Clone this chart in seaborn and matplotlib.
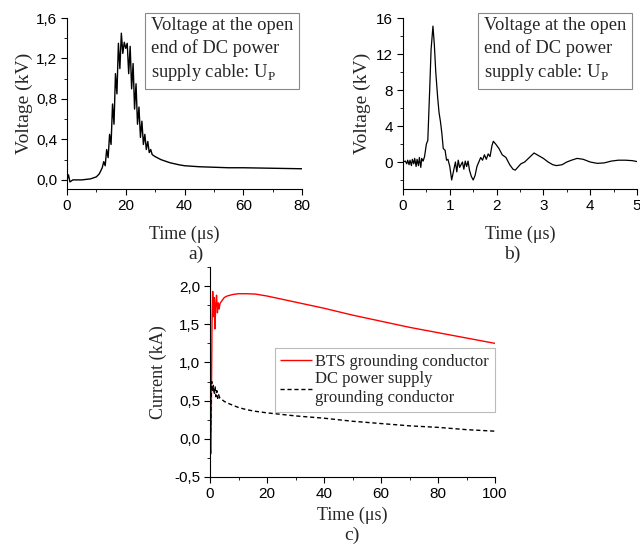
import numpy as np
import pandas as pd
import matplotlib
matplotlib.use("Agg")
import matplotlib.pyplot as plt
import seaborn as sns
from matplotlib.ticker import MultipleLocator, FixedLocator

# a) tensione all'estremo aperto, scala 0-80 us
t_a = [0, 0.5, 1, 2, 5, 8, 10, 11, 12, 12.5, 13, 13.5, 14, 14.5, 15, 15.5, 16, 16.5, 17,
       17.5, 18, 18.5, 19, 19.5, 20, 20.5, 21, 21.5, 22, 22.5, 23, 23.5, 24, 24.5, 25,
       25.5, 26, 26.5, 27, 27.5, 28, 28.5, 29, 30, 32, 35, 38, 40, 45, 50, 55, 60, 70, 80]
v_a = [0, 0.05, -0.02, 0.0, 0.0, 0.01, 0.03, 0.06, 0.12, 0.18, 0.14, 0.3, 0.22, 0.45, 0.35,
       0.75, 0.55, 1.05, 0.85, 1.35, 1.1, 1.45, 1.25, 1.36, 1.3, 1.35, 1.05, 1.32, 0.9, 1.15,
       0.7, 0.95, 0.55, 0.72, 0.42, 0.58, 0.35, 0.45, 0.3, 0.38, 0.27, 0.3, 0.25, 0.23, 0.2,
       0.17, 0.15, 0.14, 0.13, 0.125, 0.12, 0.12, 0.115, 0.11]

# b) tensione all'estremo aperto, scala 0-5 us
t_b = [0, 0.05, 0.08, 0.1, 0.13, 0.15, 0.18, 0.2, 0.23, 0.25, 0.28, 0.3, 0.33, 0.35, 0.38,
       0.4, 0.43, 0.46, 0.5, 0.53, 0.57, 0.6, 0.64, 0.67, 0.7, 0.74, 0.77, 0.8, 0.83, 0.86,
       0.9, 0.93, 0.96, 1.0, 1.04, 1.08, 1.12, 1.15, 1.18, 1.21, 1.24, 1.27, 1.3, 1.33, 1.36,
       1.39, 1.42, 1.46, 1.5, 1.54, 1.58, 1.62, 1.66, 1.7, 1.74, 1.78, 1.82, 1.86, 1.9, 1.93,
       1.98, 2.05, 2.12, 2.2, 2.28, 2.35, 2.4, 2.45, 2.52, 2.6, 2.7, 2.8, 2.9, 3.0, 3.1, 3.2,
       3.28, 3.4, 3.5, 3.6, 3.72, 3.85, 4.0, 4.15, 4.3, 4.45, 4.6, 4.75, 4.9, 5.0]
v_b = [0, 0.1, -0.2, 0.2, -0.3, 0.2, -0.4, 0.3, -0.2, 0.4, -0.5, 0.3, -0.4, 0.5, -0.6, 0.4,
       0.1, 0.6, 2.0, 2.4, 8, 12.5, 15.1, 13, 10, 7.2, 5.5, 4.5, 3.2, 1.5, 1.3, 0.2, 0.3, -0.5,
       -2.0, -1.0, 0.0, -1.1, 0.2, -0.6, -0.3, 0.0, -0.8, 0.1, -0.5, 0.1, -0.9, -1.6, -2.0,
       -1.5, -0.5, 0.0, 0.5, 0.2, 0.8, 0.3, 0.9, 0.6, 1.8, 2.3, 2.0, 1.5, 0.8, 0.5, -0.3, -0.8,
       -0.9, -0.6, -0.2, 0.0, 0.5, 1.0, 0.7, 0.4, 0.0, -0.3, -0.4, -0.3, 0.0, 0.2, 0.4, 0.3,
       0.0, -0.15, -0.1, 0.1, 0.2, 0.2, 0.15, 0.05]

# c) correnti nei conduttori di terra
t_bts = [0, 0.2, 0.35, 0.5, 0.7, 0.95, 1.2, 1.5, 1.75, 2.0, 2.3, 2.6, 2.9, 3.2, 3.5, 4, 5, 6,
         8, 10, 13, 16, 20, 25, 30, 40, 50, 60, 70, 80, 90, 100]
i_bts = [0, -0.2, -0.18, 0.5, 1.5, 1.93, 1.6, 1.85, 1.44, 1.75, 1.88, 1.65, 1.78, 1.7, 1.77,
         1.8, 1.85, 1.87, 1.89, 1.9, 1.9, 1.895, 1.87, 1.83, 1.79, 1.71, 1.62, 1.54, 1.46,
         1.39, 1.32, 1.25]
t_dc = [0, 0.2, 0.4, 0.6, 0.9, 1.2, 1.5, 1.8, 2.1, 2.4, 2.7, 3.0, 3.5, 4, 5, 6, 8, 10, 13, 16,
        20, 25, 30, 40, 50, 60, 70, 80, 90, 100]
i_dc = [0, 0.1, 0.5, 0.75, 0.62, 0.7, 0.58, 0.68, 0.55, 0.63, 0.53, 0.58, 0.53, 0.52, 0.49,
        0.47, 0.44, 0.41, 0.38, 0.36, 0.34, 0.32, 0.3, 0.27, 0.23, 0.2, 0.17, 0.15, 0.12, 0.1]

ticks_a_y = [0.0, 0.4, 0.8, 1.2, 1.6]
labels_a_y = ["0,0", "0,4", "0,8", "1,2", "1,6"]
ticks_c_y = [-0.5, 0.0, 0.5, 1.0, 1.5, 2.0]
labels_c_y = ["-0,5", "0,0", "0,5", "1,0", "1,5", "2,0"]

sns.set_style("ticks")
plt.rcParams["font.family"] = ["Liberation Sans", "DejaVu Sans"]
plt.rcParams["mathtext.fontset"] = "custom"
plt.rcParams["mathtext.rm"] = "Liberation Serif"

SERIF = ["Liberation Serif", "DejaVu Serif"]
box_txt = "Voltage at the open\nend of DC power\nsupply cable: U$_\\mathregular{P}$"

fig = plt.figure(figsize=(6.4, 5.44), dpi=100)
ax_a = fig.add_axes([67 / 640, 1 - 189 / 544, 235 / 640, 171 / 544])
ax_b = fig.add_axes([403 / 640, 1 - 189 / 544, 234 / 640, 171 / 544])
ax_c = fig.add_axes([210 / 640, 1 - 477 / 544, 285 / 640, 210 / 544])


def stile_assi(ax, pad_x=9):
    sns.despine(ax=ax)
    for s in ["left", "bottom"]:
        ax.spines[s].set_color("black")
        ax.spines[s].set_linewidth(0.8)
    ax.tick_params(which="both", direction="out", colors="black", labelsize=11, pad=3)
    ax.tick_params(which="major", length=4, width=0.8)
    ax.tick_params(which="minor", length=2.5, width=0.6)
    ax.set_xlabel("Time (\u03bcs)", family=SERIF, fontsize=13, labelpad=pad_x)


# pannello a
sns.lineplot(x=t_a, y=v_a, ax=ax_a, color="black", lw=1.0, sort=False, estimator=None)
ax_a.set_xlim(0, 80)
ax_a.set_ylim(-0.09, 1.6)
ax_a.xaxis.set_major_locator(MultipleLocator(20))
ax_a.xaxis.set_minor_locator(MultipleLocator(10))
ax_a.yaxis.set_major_locator(FixedLocator(ticks_a_y))
ax_a.set_yticklabels(labels_a_y)
ax_a.yaxis.set_minor_locator(MultipleLocator(0.2))
stile_assi(ax_a)
ax_a.set_ylabel("Voltage (kV)", family=SERIF, fontsize=14, labelpad=2)

# pannello b
sns.lineplot(x=t_b, y=v_b, ax=ax_b, color="black", lw=0.9, sort=False, estimator=None)
ax_b.set_xlim(0, 5)
ax_b.set_ylim(-3, 16)
ax_b.xaxis.set_major_locator(MultipleLocator(1))
ax_b.xaxis.set_minor_locator(MultipleLocator(0.5))
ax_b.yaxis.set_major_locator(MultipleLocator(4))
ax_b.yaxis.set_minor_locator(MultipleLocator(2))
stile_assi(ax_b)
ax_b.set_ylabel("Voltage (kV)", family=SERIF, fontsize=14, labelpad=4)

# riquadri di testo
for x0 in [151 / 640, 484 / 640]:
    fig.text(x0, 1 - 17 / 544, box_txt, family=SERIF, fontsize=13.3, va="top", ha="left",
             linespacing=1.35,
             bbox=dict(boxstyle="square,pad=0.3", fc="white", ec="#888888", lw=0.8))

# pannello c
df_c = pd.concat([
    pd.DataFrame({"t": t_bts, "i": i_bts, "serie": "BTS grounding conductor"}),
    pd.DataFrame({"t": t_dc, "i": i_dc, "serie": "DC power supply\ngrounding conductor"}),
])
sns.lineplot(data=df_c, x="t", y="i", hue="serie", style="serie",
             palette=["red", "black"], dashes=[(1, 0), (3, 2)], ax=ax_c, lw=1.0,
             sort=False, estimator=None)
ax_c.set_xlim(0, 100)
ax_c.set_ylim(-0.5, 2.25)
ax_c.xaxis.set_major_locator(MultipleLocator(20))
ax_c.xaxis.set_minor_locator(MultipleLocator(10))
ax_c.yaxis.set_major_locator(FixedLocator(ticks_c_y))
ax_c.set_yticklabels(labels_c_y)
ax_c.yaxis.set_minor_locator(MultipleLocator(0.25))
stile_assi(ax_c, pad_x=4)
ax_c.set_ylabel("Current (kA)", family=SERIF, fontsize=13, labelpad=5)
leg = ax_c.legend(title=None, loc="upper right", bbox_to_anchor=(1.0, 0.615),
                  prop={"family": SERIF, "size": 12}, frameon=True, fancybox=False,
                  borderpad=0.35, handlelength=1.9, handletextpad=0.2, labelspacing=0.1,
                  borderaxespad=0)
leg.get_frame().set_edgecolor("#aaaaaa")
leg.get_frame().set_linewidth(0.8)

# etichette dei pannelli
fig.text(196 / 640, 1 - 254 / 544, "a)", family=SERIF, fontsize=14, ha="center", va="center")
fig.text(512 / 640, 1 - 254 / 544, "b)", family=SERIF, fontsize=14, ha="center", va="center")
fig.text(352 / 640, 1 - 535 / 544, "c)", family=SERIF, fontsize=14, ha="center", va="center")

fig.savefig("out.png", dpi=100)
